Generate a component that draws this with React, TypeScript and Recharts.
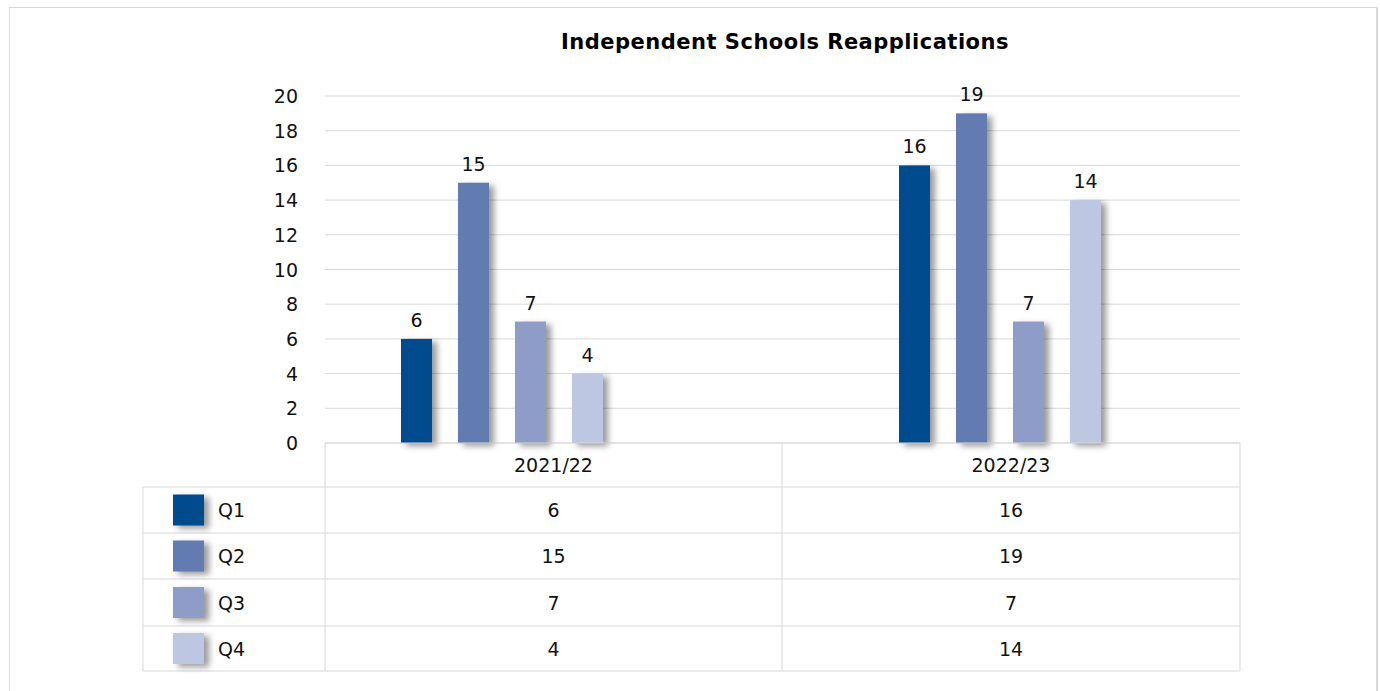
import React from 'react';
import { BarChart, Bar, XAxis, YAxis, CartesianGrid, LabelList } from 'recharts';

const categories = ['2021/22', '2022/23'];
const seriesNames = ['Q1', 'Q2', 'Q3', 'Q4'];
const q1Values = [6, 16];
const q2Values = [15, 19];
const q3Values = [7, 7];
const q4Values = [4, 14];
const yTicks = [0, 2, 4, 6, 8, 10, 12, 14, 16, 18, 20];
const seriesColors = ['#004b8d', '#627bb1', '#8d9dc8', '#bec7e1'];
const title = 'Independent Schools Reapplications';

const seriesValues = [q1Values, q2Values, q3Values, q4Values];
const data = categories.map((c, i) => {
  const row: Record<string, any> = { category: c };
  seriesNames.forEach((s, k) => {
    row[s] = seriesValues[k][i];
  });
  return row;
});

const FONT = '"DejaVu Sans", sans-serif';
const FS = 19;
const TEXT = '#111';
const LINE = '#d9d9d9';
const SHADOW = 'drop-shadow(5px 3px 3px rgba(0,0,0,0.4))';

// layout
const W = 1380;
const H = 691;
const gridLeft = 325;
const gridRight = 1240;
const plotTop = 96;
const plotBottom = 443;
const barAreaLeft = 253;
const barAreaRight = 1249;
const yAxisW = 60;
const colEdges = [143, 325, 782, 1240];
const rowEdges = [443, 487, 533, 579, 626, 671];

const ShadowRect = (props: any) => {
  const { x, y, width, height, fill } = props;
  if (!height || height <= 0) return null;
  return <rect x={x} y={y} width={width} height={height} fill={fill} style={{ filter: SHADOW }} />;
};

const YTick = (props: any) => {
  const { y, payload } = props;
  return (
    <text x={gridLeft - 27} y={y} dy={7} textAnchor="end" fontSize={FS} fill={TEXT} fontFamily={FONT}>
      {payload.value}
    </text>
  );
};

const DataTable = () => {
  const lines: React.ReactNode[] = [];
  const [l, c1, c2, r] = colEdges;
  const top = rowEdges[0];
  const bottom = rowEdges[rowEdges.length - 1];
  lines.push(<line key="v1" x1={c1} y1={top} x2={c1} y2={bottom} stroke={LINE} />);
  lines.push(<line key="v2" x1={c2} y1={top} x2={c2} y2={bottom} stroke={LINE} />);
  lines.push(<line key="v3" x1={r} y1={top} x2={r} y2={bottom} stroke={LINE} />);
  lines.push(<line key="v0" x1={l} y1={rowEdges[1]} x2={l} y2={bottom} stroke={LINE} />);
  lines.push(<line key="h0" x1={c1} y1={top} x2={r} y2={top} stroke={LINE} />);
  for (let i = 1; i < rowEdges.length; i++) {
    lines.push(<line key={'h' + i} x1={l} y1={rowEdges[i]} x2={r} y2={rowEdges[i]} stroke={LINE} />);
  }
  const texts: React.ReactNode[] = [];
  categories.forEach((cat, ci) => {
    const cx = (colEdges[ci + 1] + colEdges[ci + 2]) / 2;
    const cy = (rowEdges[0] + rowEdges[1]) / 2;
    texts.push(
      <text key={'c' + ci} x={cx} y={cy} dy={7} textAnchor="middle" fontSize={FS} fill={TEXT} fontFamily={FONT}>
        {cat}
      </text>
    );
    seriesNames.forEach((s, si) => {
      const ry = (rowEdges[si + 1] + rowEdges[si + 2]) / 2;
      texts.push(
        <text key={'v' + ci + si} x={cx} y={ry} dy={7} textAnchor="middle" fontSize={FS} fill={TEXT} fontFamily={FONT}>
          {seriesValues[si][ci]}
        </text>
      );
    });
  });
  seriesNames.forEach((s, si) => {
    const ry = (rowEdges[si + 1] + rowEdges[si + 2]) / 2;
    texts.push(
      <rect key={'k' + si} x={l + 30} y={ry - 15.5} width={31} height={31} fill={seriesColors[si]} style={{ filter: SHADOW }} />
    );
    texts.push(
      <text key={'n' + si} x={l + 75} y={ry} dy={7} fontSize={FS} fill={TEXT} fontFamily={FONT}>
        {s}
      </text>
    );
  });
  return (
    <svg width={W} height={H} style={{ position: 'absolute', left: 0, top: 0, pointerEvents: 'none' }}>
      {lines}
      {texts}
    </svg>
  );
};

export default function App() {
  return (
    <div style={{ position: 'absolute', left: 0, top: 0, width: W, height: H, overflow: 'hidden', background: '#fff' }}>
      <div
        style={{
          position: 'absolute',
          left: 9,
          top: 7,
          width: 1369,
          height: 720,
          border: '1px solid #d9d9d9',
          borderRight: '2px solid #d9d9d9',
          boxSizing: 'border-box',
        }}
      />
      <div
        style={{
          position: 'absolute',
          left: 0,
          width: 1570,
          top: 30,
          textAlign: 'center',
          fontFamily: FONT,
          fontWeight: 'bold',
          fontSize: 21,
          color: '#000',
          letterSpacing: 0.5,
        }}
      >
        {title}
      </div>
      <div style={{ position: 'absolute', left: 0, top: 0 }}>
        <BarChart
          width={W}
          height={H}
          data={data}
          barGap={26}
          margin={{ top: plotTop, right: W - barAreaRight, bottom: H - plotBottom, left: barAreaLeft - yAxisW }}
        >
          <CartesianGrid vertical={false} stroke={LINE} x={gridLeft} width={gridRight - gridLeft} />
          <XAxis dataKey="category" hide />
          <YAxis
            width={yAxisW}
            domain={[0, 20]}
            ticks={yTicks}
            axisLine={false}
            tickLine={false}
            tick={<YTick />}
            interval={0}
          />
          {seriesNames.map((s, si) => (
            <Bar key={s} dataKey={s} fill={seriesColors[si]} barSize={31} isAnimationActive={false} shape={<ShadowRect />}>
              <LabelList dataKey={s} position="top" offset={12} fill={TEXT} fontSize={FS} fontFamily={FONT} />
            </Bar>
          ))}
        </BarChart>
      </div>
      <DataTable />
    </div>
  );
}
